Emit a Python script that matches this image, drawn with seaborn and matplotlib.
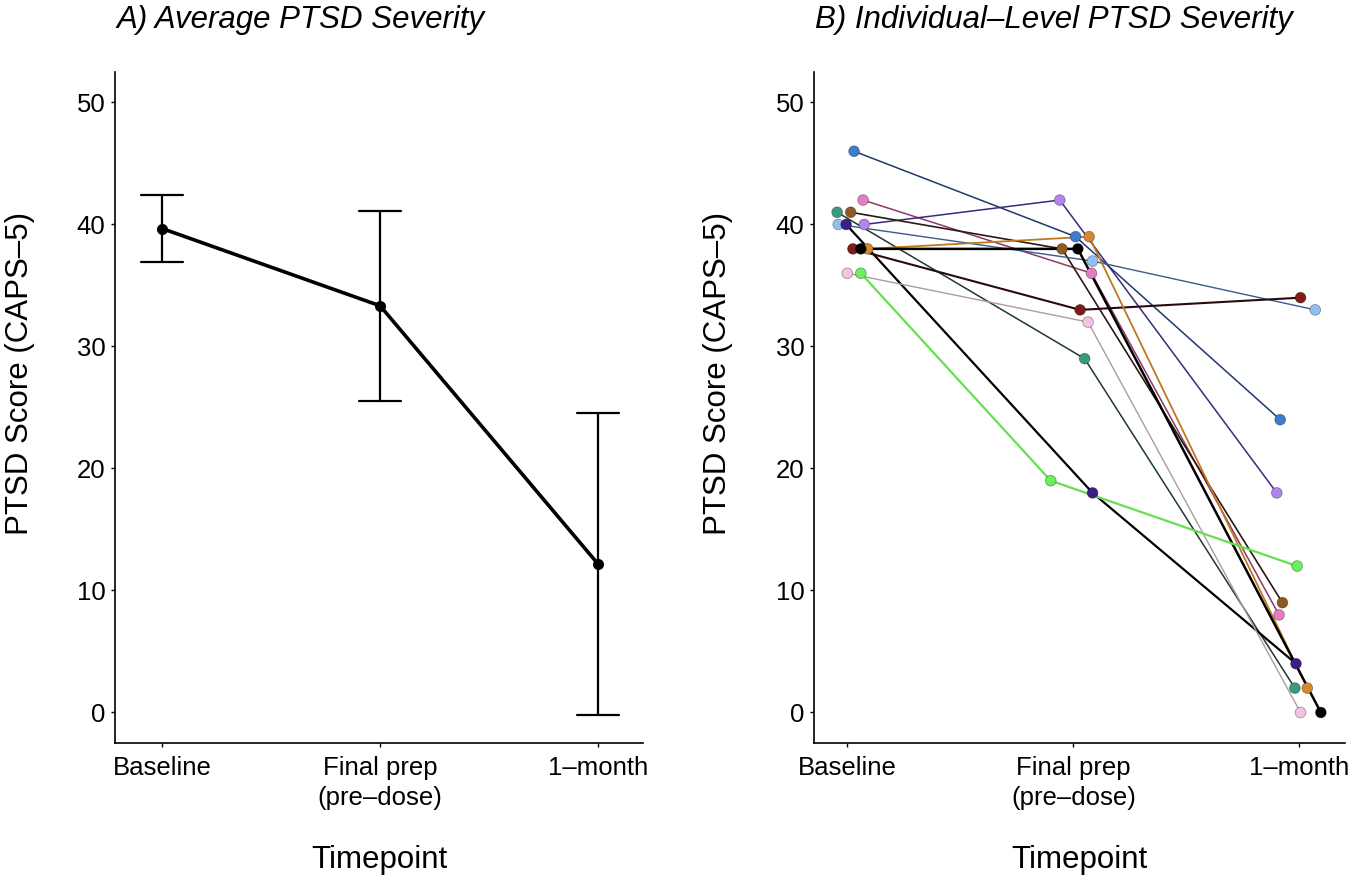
import matplotlib
matplotlib.use("Agg")
import matplotlib.pyplot as plt
import pandas as pd
import seaborn as sns

TIMEPOINTS = ["Baseline", "Final prep\n(pre–dose)", "1–month"]
PARTICIPANTS = ["P01", "P02", "P03", "P04", "P05", "P06",
                "P07", "P08", "P09", "P10", "P11", "P12"]

# CAPS-5 scores per participant
BASELINE = [46, 42, 40, 41, 41, 40, 40, 38, 38, 38, 36, 36]
FINAL_PREP = [39, 36, 42, 29, 38, 37, 18, 33, 39, 38, 32, 19]
ONE_MONTH = [24, 8, 18, 2, 9, 33, 4, 34, 2, 0, 0, 12]

# horizontal jitter seen in panel B (category units)
JITTER_BASELINE = [0.03, 0.07, 0.075, -0.045, 0.015, -0.04, -0.005, 0.025, 0.09, 0.06, 0.0, 0.06]
JITTER_FINAL = [0.01, 0.08, -0.06, 0.05, -0.05, 0.085, 0.085, 0.03, 0.07, 0.02, 0.065, -0.1]
JITTER_MONTH = [-0.085, -0.09, -0.1, -0.02, -0.075, 0.07, -0.015, 0.005, 0.035, 0.095, 0.005, -0.01]

POINT_COLORS = ["#3C7DD0", "#E67CC2", "#B484EC", "#3A9A80", "#8E5A24", "#92BEF0",
                "#3B1E86", "#7F1B1B", "#D38A2E", "#000000", "#F4C2E2", "#6AF05A"]
LINE_COLORS = ["#1F3A6E", "#8A3A6A", "#3A2A7A", "#1E3A30", "#2A1A10", "#3A5A8A",
               "#000000", "#2A0A0A", "#C07820", "#000000", "#B09AA0", "#66E050"]
LINE_WIDTHS = [1.1, 1.1, 1.1, 1.1, 1.2, 1.0, 1.6, 1.5, 1.3, 1.8, 1.0, 1.6]

sns.set_style("ticks")
plt.rcParams["font.family"] = ["Liberation Sans", "DejaVu Sans"]
plt.rcParams.update({"text.color": "black", "axes.labelcolor": "black",
                     "xtick.color": "black", "ytick.color": "black",
                     "axes.edgecolor": "black"})

rows = []
for i, pid in enumerate(PARTICIPANTS):
    for k, (scores, jit) in enumerate([(BASELINE, JITTER_BASELINE),
                                        (FINAL_PREP, JITTER_FINAL),
                                        (ONE_MONTH, JITTER_MONTH)]):
        rows.append({"pid": pid, "timepoint": TIMEPOINTS[k], "pos": k + jit[i],
                     "score": scores[i]})
df = pd.DataFrame(rows)

fig = plt.figure(figsize=(13.5, 8.84), dpi=100)
ax_a = fig.add_axes([0.0852, 0.1595, 0.3911, 0.7591])
ax_b = fig.add_axes([0.603, 0.1595, 0.393, 0.7591])

# A) mean +/- SD
sns.pointplot(data=df, x="timepoint", y="score", order=TIMEPOINTS, errorbar="sd",
              capsize=0.19, color="black", markers="o", markersize=6,
              linewidth=2.6, err_kws={"linewidth": 1.6}, ax=ax_a)
ax_a.set_xlim(-0.216, 2.206)

# B) individual trajectories
line_pal = dict(zip(PARTICIPANTS, LINE_COLORS))
point_pal = dict(zip(PARTICIPANTS, POINT_COLORS))
sizes = dict(zip(PARTICIPANTS, LINE_WIDTHS))
sns.lineplot(data=df, x="pos", y="score", hue="pid", palette=line_pal,
             size="pid", sizes=sizes, units="pid", estimator=None, sort=False,
             legend=False, ax=ax_b)
sns.scatterplot(data=df, x="pos", y="score", hue="pid", palette=point_pal,
                s=60, edgecolor=(0, 0, 0, 0.35), linewidth=0.6, legend=False,
                zorder=5, ax=ax_b)
ax_b.set_xticks([0, 1, 2])
ax_b.set_xticklabels(TIMEPOINTS)
ax_b.set_xlim(-0.147, 2.2)

for ax in (ax_a, ax_b):
    ax.set_ylim(-2.5, 52.5)
    ax.set_yticks([0, 10, 20, 30, 40, 50])
    ax.tick_params(labelsize=18.5, length=3, width=1, pad=4)
    ax.tick_params(axis="x", pad=6)
    for lbl in ax.get_xticklabels():
        lbl.set_linespacing(1.35)
    ax.set_xlabel("Timepoint", fontsize=22.5)
    ax.set_ylabel("PTSD Score (CAPS–5)", fontsize=22.5)
    ax.xaxis.set_label_coords(0.5, -0.152)
    ax.yaxis.set_label_coords(-0.152, 0.55)
    for side in ("left", "bottom"):
        ax.spines[side].set_linewidth(1.2)
    sns.despine(ax=ax)

fig.text(117 / 1350, 1 - 20 / 884, "A) Average PTSD Severity", fontsize=22.5,
         style="italic", va="center", ha="left")
fig.text(815 / 1350, 1 - 20 / 884, "B) Individual–Level PTSD Severity", fontsize=22.5,
         style="italic", va="center", ha="left")

fig.savefig("out.png", dpi=100)
